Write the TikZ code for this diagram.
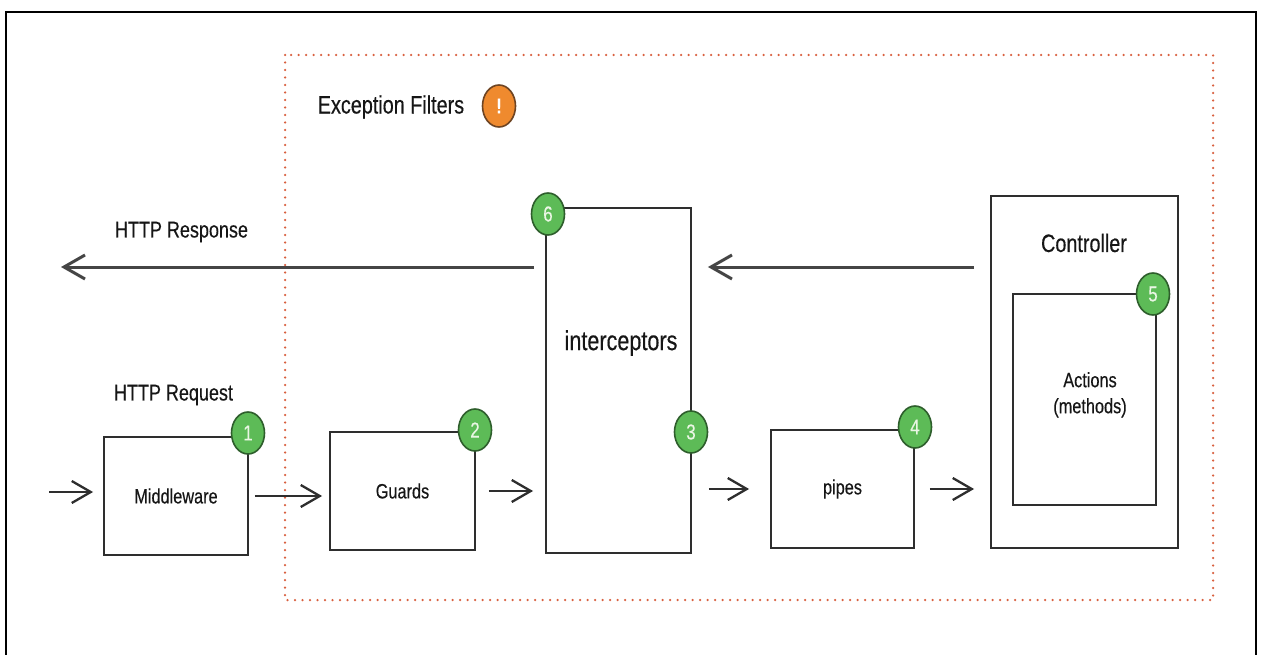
\documentclass[tikz,border=0pt]{standalone}
\usepackage{fontspec}
\setmainfont{Liberation Sans}[FakeBold=0.35]
\usepackage{graphicx}
\usetikzlibrary{arrows.meta,shapes.geometric,calc}

\definecolor{ink}{HTML}{161616}
\definecolor{edge}{HTML}{2E2E2E}
\definecolor{shaft}{HTML}{454545}
\definecolor{dots}{HTML}{D9603F}
\definecolor{badgeg}{HTML}{5DBB57}
\definecolor{badgegd}{HTML}{2E5E2C}
\definecolor{badgeo}{HTML}{EF8A2E}
\definecolor{badgeod}{HTML}{6E4422}
\definecolor{badgetxt}{HTML}{EAF6E4}

% text is drawn slightly tall and narrow
\newcommand\vstretch[1]{\scalebox{1}[1.27]{#1}}
\newcommand\fsz[1]{\fontsize{#1}{#1}\selectfont}

\begin{document}
\begin{tikzpicture}[x=1pt,y=-1pt,
  box/.style={draw=edge, line width=1.9pt, rectangle, inner sep=0pt, text=ink, font=\fsz{16.3}},
  lbl/.style={inner sep=0pt, text=ink},
  badge/.style={ellipse, draw=badgegd, fill=badgeg, line width=1.6pt,
    minimum width=33pt, minimum height=42pt, inner sep=0pt, text=badgetxt, font=\fsz{17}},
  flow/.style={draw=edge, line width=2.3pt, -{Straight Barb[length=19pt,width=22pt]}},
  back/.style={draw=shaft, line width=3pt, -{Straight Barb[length=21pt,width=24pt]}},
]
\useasboundingbox (0,0) rectangle (1263,655);
\fill[white] (0,0) rectangle (1263,655);

% outer frame (open at the bottom edge)
\draw[line width=2pt, black] (6,662) -- (6,12) -- (1256,12) -- (1256,662);

% exception filter zone
\draw[dots, line width=2.5pt, line cap=round, dash pattern=on 0pt off 7.5pt]
  (285,55) rectangle (1213,600);
\node[lbl, font=\fsz{19.8}] (exf) at (391,107) {\vstretch{Exception Filters}};
\node[badge, fill=badgeo, draw=badgeod, text=white, font=\fsz{17}\bfseries] (bang) at (499,106) {\vstretch{!}};

% request pipeline boxes
\node[box, minimum width=144pt, minimum height=118pt] (mw) at (176,496) {\vstretch{Middleware}};
\node[box, minimum width=145pt, minimum height=118pt] (gd) at (402.5,491) {\vstretch{Guards}};
\node[box, minimum width=145pt, minimum height=345pt] (ic) at (618.5,380.5) {};
\node[lbl, font=\fsz{21.6}] (icl) at (621,343) {\vstretch{interceptors}};
\node[box, minimum width=143pt, minimum height=118pt] (pp) at (842.5,489) {\vstretch{pipes}};
\node[box, minimum width=187pt, minimum height=352pt] (ct) at (1084.5,372) {};
\node[lbl, font=\fsz{19.8}] (ctl) at (1084,243) {\vstretch{Controller}};
\node[box, minimum width=143pt, minimum height=211pt] (ac) at (1084.5,399.5) {};
\node[lbl, align=center, font=\fontsize{16.3}{20.5}\selectfont] (acl) at (1090,395)
  {\vstretch{\begin{tabular}{@{}c@{}}Actions\\(methods)\end{tabular}}};

% captions
\node[lbl, font=\fsz{18}] (resp) at (181.5,232) {\vstretch{HTTP Response}};
\node[lbl, font=\fsz{18}] (req) at (173.5,395) {\vstretch{HTTP Request}};

% step badges
\node[badge] (b1) at (248,433) {\vstretch{1}};
\node[badge] (b2) at (475,430) {\vstretch{2}};
\node[badge] (b3) at (691,432) {\vstretch{3}};
\node[badge] (b4) at (915,427) {\vstretch{4}};
\node[badge] (b5) at (1153,294) {\vstretch{5}};
\node[badge] (b6) at (548,214) {\vstretch{6}};

% free ends of the flow
\coordinate (inlet) at (49,492);
\coordinate (outlet) at (61,267);

% forward flow
\draw[flow] (inlet) -- ($(mw.west |- inlet)+(-10,0)$);
\draw[flow] ($(mw.east)+(6,0)$) -- ($(gd.west |- mw.east)+(-7,0)$);
\draw[flow] ($(gd.east)+(13,0)$) -- ($(ic.west |- gd.east)+(-12,0)$);
\draw[flow] ($(ic.east |- pp.west)+(17,0)$) -- ($(pp.west)+(-21,0)$);
\draw[flow] ($(pp.east)+(15,0)$) -- ($(ct.west |- pp.east)+(-16,0)$);

% response flow
\draw[back] ($(ct.west |- outlet)+(-16,0)$) -- ($(ic.east |- outlet)+(16,0)$);
\draw[back] ($(ic.west |- outlet)+(-11,0)$) -- (outlet);
\end{tikzpicture}
\end{document}
